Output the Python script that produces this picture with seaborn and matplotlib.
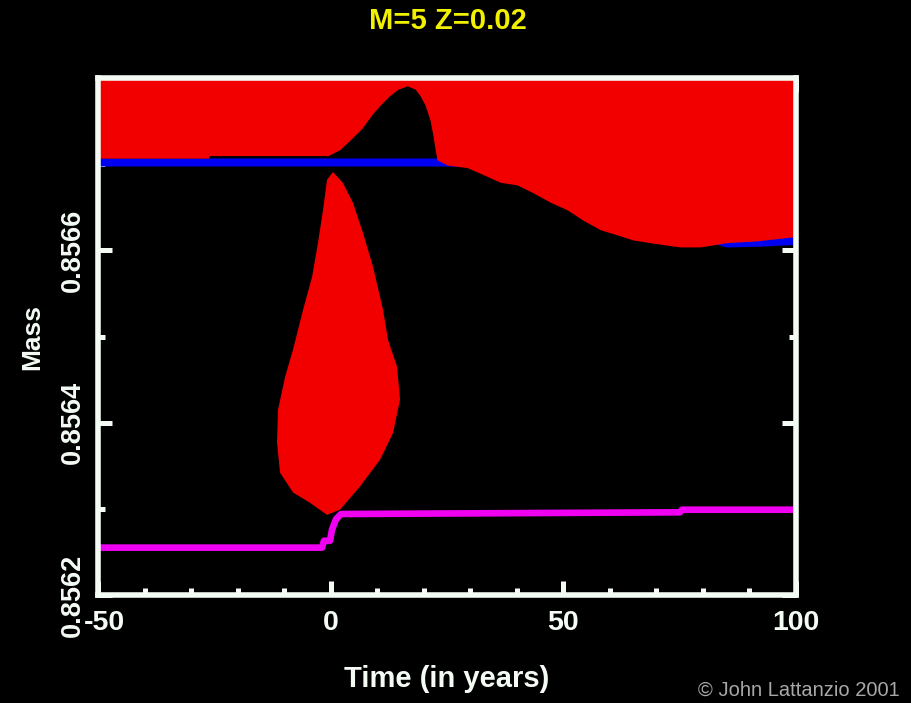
import matplotlib
matplotlib.use("Agg")
import matplotlib.pyplot as plt
import matplotlib.transforms as mtransforms
from matplotlib.ticker import MultipleLocator, FixedLocator, FixedFormatter
import seaborn as sns

# --- data -----------------------------------------------------------------
# lower boundary of the convective envelope (red region extends up to the top)
env_time = [-50.0, -26.3, -26.1, -0.5, 2.0, 4.2, 6.8, 9.1, 11.1, 12.8, 14.5,
            16.5, 18.2, 19.2, 20.3, 21.4, 22.0, 22.5, 22.9, 25.1, 29.4, 32.8,
            36.5, 40.1, 43.5, 47.2, 50.9, 54.3, 58.0, 61.6, 65.1, 68.7, 72.4,
            75.2, 79.5, 85.3, 91.7, 100.0]
env_mass = [0.856707, 0.856707, 0.856710, 0.856710, 0.856717, 0.856728,
            0.856742, 0.856759, 0.856771, 0.856780, 0.856787, 0.856791,
            0.856787, 0.856780, 0.856769, 0.856751, 0.856734, 0.856717,
            0.856705, 0.856699, 0.856696, 0.856688, 0.856679, 0.856676,
            0.856667, 0.856656, 0.856647, 0.856635, 0.856624, 0.856618,
            0.856612, 0.856609, 0.856606, 0.856604, 0.856604, 0.856609,
            0.856611, 0.856616]
env_top = 0.8568

# intershell convective pocket (closed outline)
pocket_time = [0.54, -0.75, -1.61, -2.69, -3.98, -5.91, -8.06, -9.78, -11.29,
               -11.51, -10.86, -8.06, -4.41, -0.75, 2.04, 6.34, 10.65, 13.44,
               14.95, 14.30, 12.37, 11.29, 9.14, 6.99, 4.84, 2.69]
pocket_mass = [0.856691, 0.856682, 0.856647, 0.856609, 0.856569, 0.856531,
               0.856485, 0.856453, 0.856415, 0.856377, 0.856342, 0.856319,
               0.856307, 0.856293, 0.856299, 0.856326, 0.856357, 0.856388,
               0.856427, 0.856465, 0.856496, 0.856531, 0.856581, 0.856620,
               0.856655, 0.856678]

# hydrogen-exhausted core mass
h_time = [-50.0, 24.5, 40.0, 58.0, 75.0, 85.3, 92.4, 100.0]
h_mass = [0.856702, 0.856702, 0.856700, 0.856665, 0.856625, 0.856608,
          0.856609, 0.856611]

# helium-exhausted core mass
he_time = [-50.0, -1.83, -1.40, -0.11, 0.32, 1.18, 2.26, 75.16, 75.59, 100.0]
he_mass = [0.856255, 0.856255, 0.856263, 0.856263, 0.856276, 0.856288,
           0.856294, 0.856296, 0.856299, 0.856299]

x_ticks = [-50, 0, 50, 100]
x_labels = ["-50", "0", "50", "100"]
y_ticks = [0.8562, 0.8564, 0.8566, 0.8568]
y_labels = ["0.8562", "0.8564", "0.8566", ""]

title = "M=5 Z=0.02"
credit = "\u00a9 John Lattanzio 2001"

# --- style ----------------------------------------------------------------
RED = "#f20000"
BLUE = "#0000f0"
MAGENTA = "#f000f0"
YELLOW = "#f0f000"
WHITE = "#f4fbf4"
GREY = "#a8a8a8"

sns.set_style("dark", {"axes.facecolor": "black", "figure.facecolor": "black"})
plt.rcParams["font.family"] = ["Liberation Sans", "DejaVu Sans"]

fig = plt.figure(figsize=(9.12, 7.03), dpi=100)
ax = fig.add_axes([0.1075, 0.1536, 0.7648, 0.7354])
ax.set_facecolor("black")

# H core line sits beneath the envelope fill
sns.lineplot(x=h_time, y=h_mass, color=BLUE, linewidth=5.8, sort=False,
             estimator=None, ax=ax, zorder=2)
ax.fill_between(env_time, env_mass, env_top, color=RED, linewidth=0, zorder=3)
ax.fill(pocket_time, pocket_mass, color=RED, linewidth=0, zorder=3)
sns.lineplot(x=he_time, y=he_mass, color=MAGENTA, linewidth=4.8, sort=False,
             estimator=None, ax=ax, zorder=4)

ax.set_xlim(-50, 100)
ax.set_ylim(0.8562, 0.8568)
ax.grid(False)

for sp in ax.spines.values():
    sp.set_visible(True)
    sp.set_color(WHITE)
    sp.set_linewidth(4)
    sp.set_zorder(10)

ax.xaxis.set_major_locator(FixedLocator(x_ticks))
ax.xaxis.set_major_formatter(FixedFormatter(x_labels))
ax.xaxis.set_minor_locator(MultipleLocator(10))
ax.yaxis.set_major_locator(FixedLocator(y_ticks))
ax.yaxis.set_major_formatter(FixedFormatter(y_labels))
ax.yaxis.set_minor_locator(MultipleLocator(0.0001))

ax.tick_params(which="both", direction="in", top=True, right=True,
               bottom=True, left=True, color=WHITE, width=3.6, zorder=10)
ax.tick_params(which="major", length=10, labelcolor=WHITE)
ax.tick_params(which="minor", length=5)
ax.tick_params(axis="x", which="major", pad=11, labelsize=20.5)
ax.tick_params(axis="y", which="major", pad=9, labelsize=19.5)
for lab in ax.get_xticklabels():
    lab.set_fontweight("bold")
for lab in ax.get_yticklabels():
    lab.set_fontweight("bold")
    lab.set_rotation(90)
    lab.set_verticalalignment("center")

# nudge the leftmost time label clear of the lowest mass label
first = ax.get_xticklabels()[0]
first.set_transform(first.get_transform() +
                    mtransforms.ScaledTranslation(6 / 100, 0, fig.dpi_scale_trans))

ax.set_xlabel("Time (in years)", color=WHITE, fontsize=21,
              fontweight="bold", labelpad=21)
ax.set_ylabel("Mass", color=WHITE, fontsize=19, fontweight="bold",
              labelpad=11)

fig.text(0.4915, 0.970, title, color=YELLOW, fontsize=21, fontweight="bold",
         ha="center", va="center")
fig.text(0.987, 0.018, credit, color=GREY, fontsize=14.5, ha="right",
         va="center")

fig.savefig("out.png", dpi=100, facecolor="black")
